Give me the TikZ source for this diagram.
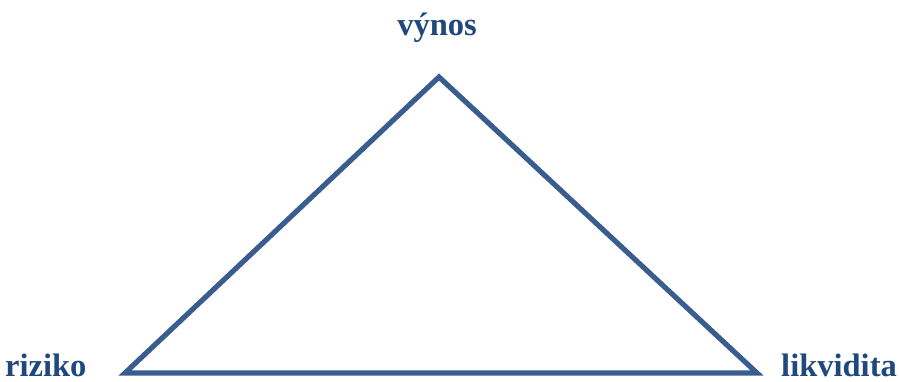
\documentclass[tikz,border=0pt]{standalone}
\usepackage{fontspec}
\setmainfont{Liberation Serif}
\definecolor{txtblue}{HTML}{1F497D}
\definecolor{lineblue}{HTML}{3A5D8F}
\begin{document}
\begin{tikzpicture}[x=1pt,y=1pt,
  lbl/.style={inner sep=0pt, font=\fontsize{32.5}{38}\selectfont\bfseries, text=txtblue},
  tri/.style={draw=lineblue, line width=5.2pt, line join=miter}]
\useasboundingbox (0,0) rectangle (899,381);
\coordinate (T) at (439,304);
\coordinate (L) at (125,8);
\coordinate (R) at (757,8);
\draw[tri] (T) -- (L) -- (R) -- cycle;
\node[lbl, anchor=base] (v) at (437,345) {výnos};
\node[lbl, anchor=base west] (r) at (5,5) {riziko};
\node[lbl, anchor=base east] (k) at (897,5) {likvidita};
\end{tikzpicture}
\end{document}
